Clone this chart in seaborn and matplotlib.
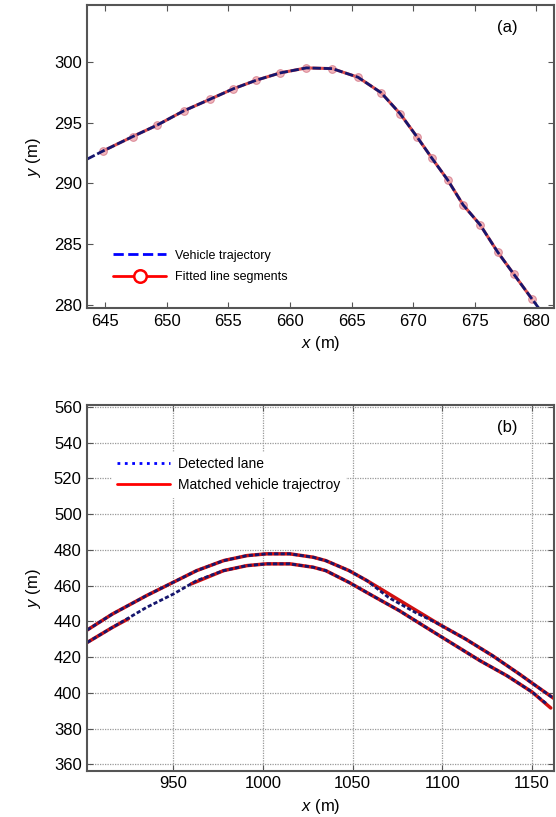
import matplotlib
matplotlib.use('Agg')
import matplotlib.pyplot as plt
from matplotlib.lines import Line2D
import seaborn as sns
import pandas as pd

sns.set_style('ticks')
plt.rcParams['font.family'] = ['Liberation Sans', 'DejaVu Sans']
plt.rcParams['mathtext.fontset'] = 'custom'
plt.rcParams['mathtext.it'] = 'Liberation Sans:italic'
plt.rcParams['mathtext.rm'] = 'Liberation Sans'
plt.rcParams.update({'text.color': 'black', 'axes.labelcolor': 'black',
                     'xtick.labelcolor': 'black', 'ytick.labelcolor': 'black'})

# ===== (a) vehicle trajectory and fitted segments =====
fit_x = [644.86, 647.23, 649.19, 651.36, 653.47, 655.40, 657.28, 659.22, 661.33, 663.44,
         665.52, 667.40, 668.93, 670.29, 671.53, 672.80, 674.05, 675.43, 676.85, 678.18, 679.62]
fit_y = [292.68, 293.85, 294.78, 295.96, 296.91, 297.79, 298.50, 299.10, 299.51, 299.45,
         298.74, 297.46, 295.74, 293.85, 292.05, 290.27, 288.22, 286.58, 284.34, 282.49, 280.49]
traj_x = [643.55] + fit_x + [680.2]
traj_y = [292.0] + fit_y + [279.7]
a_xticks = [645, 650, 655, 660, 665, 670, 675, 680]
a_yticks = [280, 285, 290, 295, 300]

# ===== (b) detected lanes and matched trajectory =====
up_x = [902, 916, 935, 950, 963, 978, 991, 1002, 1015, 1028, 1035, 1048, 1058, 1070,
        1085, 1098, 1113, 1128, 1143, 1150, 1162]
up_y = [435.2, 444.1, 454.4, 461.9, 468.4, 474.0, 476.8, 477.8, 477.8, 475.9, 474.0, 468.4,
        462.8, 453.4, 445.0, 438.5, 430.1, 420.8, 410.5, 405.5, 397.0]
lo_x = [902, 916, 935, 950, 963, 978, 991, 1002, 1015, 1028, 1035, 1048, 1061, 1076,
        1091, 1106, 1121, 1136, 1150, 1158]
lo_y = [428.2, 436.6, 447.8, 455.3, 462.8, 468.4, 471.2, 472.2, 472.2, 470.3, 468.4, 461.8,
        454.4, 446.0, 436.6, 427.3, 418.0, 409.6, 400.5, 394.0]
# matched trajectory pieces (where the red line shows under the lane)
tr_up_x = up_x[:13] + up_x[15:]
tr_up_y = up_y[:13] + up_y[15:]
tr_lo1_x = lo_x[:2] + [925]
tr_lo1_y = lo_y[:2] + [441.5]
tr_lo2_x = [960] + lo_x[5:19] + [1160.5]
tr_lo2_y = [461.0] + lo_y[5:19] + [391.5]
b_xticks = [950, 1000, 1050, 1100, 1150]
b_yticks = [360, 380, 400, 420, 440, 460, 480, 500, 520, 540, 560]

fig = plt.figure(figsize=(5.56, 8.17), dpi=100)
ax1 = fig.add_axes([0.157, 0.6226, 0.84, 0.3714])
ax2 = fig.add_axes([0.157, 0.0567, 0.84, 0.4473])

RED = '#d01010'
NAVY = '#16166e'

# --- panel (a)
sns.lineplot(x=fit_x, y=fit_y, ax=ax1, color=RED, lw=2.2, marker='o', markersize=5.5,
             markerfacecolor='#eea0a8', markeredgecolor='#d07080', alpha=0.75)
sns.lineplot(x=traj_x, y=traj_y, ax=ax1, color=NAVY, lw=2.0, linestyle=(0, (3, 1)))
ax1.set_xlim(643.55, 681.45)
ax1.set_ylim(279.7, 304.7)
ax1.set_xticks(a_xticks)
ax1.set_yticks(a_yticks)
ax1.set_xlabel(r'$x$ (m)', fontsize=12, labelpad=4)
ax1.set_ylabel(r'$y$ (m)', fontsize=12, labelpad=8)
ax1.text(0.9, 0.927, '(a)', transform=ax1.transAxes, fontsize=12, ha='center', va='center')
h_a = [Line2D([], [], color='blue', lw=2, ls='--'),
       Line2D([], [], color='red', lw=2, marker='o', mfc='white', mec='red', ms=9, mew=1.8)]
ax1.legend(h_a, ['Vehicle trajectory', 'Fitted line segments'], loc='upper left',
           bbox_to_anchor=(0.045, 0.21), fontsize=9, handlelength=4.2, handletextpad=0.7,
           labelspacing=0.75, borderaxespad=0, frameon=False)

# --- panel (b)
for xs, ys in [(tr_up_x, tr_up_y), (tr_lo1_x, tr_lo1_y), (tr_lo2_x, tr_lo2_y)]:
    d = pd.DataFrame({'x': xs, 'y': ys})
    sns.lineplot(data=d, x='x', y='y', ax=ax2, color=RED, lw=2.5)
for xs, ys in [(up_x, up_y), (lo_x, lo_y)]:
    d = pd.DataFrame({'x': xs, 'y': ys})
    sns.lineplot(data=d, x='x', y='y', ax=ax2, color=NAVY, lw=2.0, linestyle=(0, (1.5, 0.8)))
ax2.set_xlim(902, 1162.5)
ax2.set_ylim(356.4, 561)
ax2.set_xticks(b_xticks)
ax2.set_yticks(b_yticks)
ax2.grid(True, color='#999999', ls=(0, (1, 1)), lw=0.9)
ax2.set_axisbelow(True)
ax2.set_xlabel(r'$x$ (m)', fontsize=12, labelpad=4)
ax2.set_ylabel(r'$y$ (m)', fontsize=12, labelpad=8)
ax2.text(0.9, 0.94, '(b)', transform=ax2.transAxes, fontsize=12, ha='center', va='center')
h_b = [Line2D([], [], color='blue', lw=2, ls=':'),
       Line2D([], [], color='red', lw=2)]
leg = ax2.legend(h_b, ['Detected lane', 'Matched vehicle trajectroy'], loc='upper left',
                 bbox_to_anchor=(0.053, 0.872), fontsize=10, handlelength=3.8,
                 handletextpad=0.6, labelspacing=0.5, borderaxespad=0, borderpad=0.35,
                 frameon=True, fancybox=False, framealpha=1)
leg.get_frame().set_edgecolor('white')

for ax in (ax1, ax2):
    for s in ax.spines.values():
        s.set_color('#555555')
        s.set_linewidth(1.5)
    ax.tick_params(direction='in', top=True, right=True, length=4, width=0.8,
                   color='#555555', labelcolor='black', labelsize=12, pad=4)

plt.savefig('out.png', dpi=100)
